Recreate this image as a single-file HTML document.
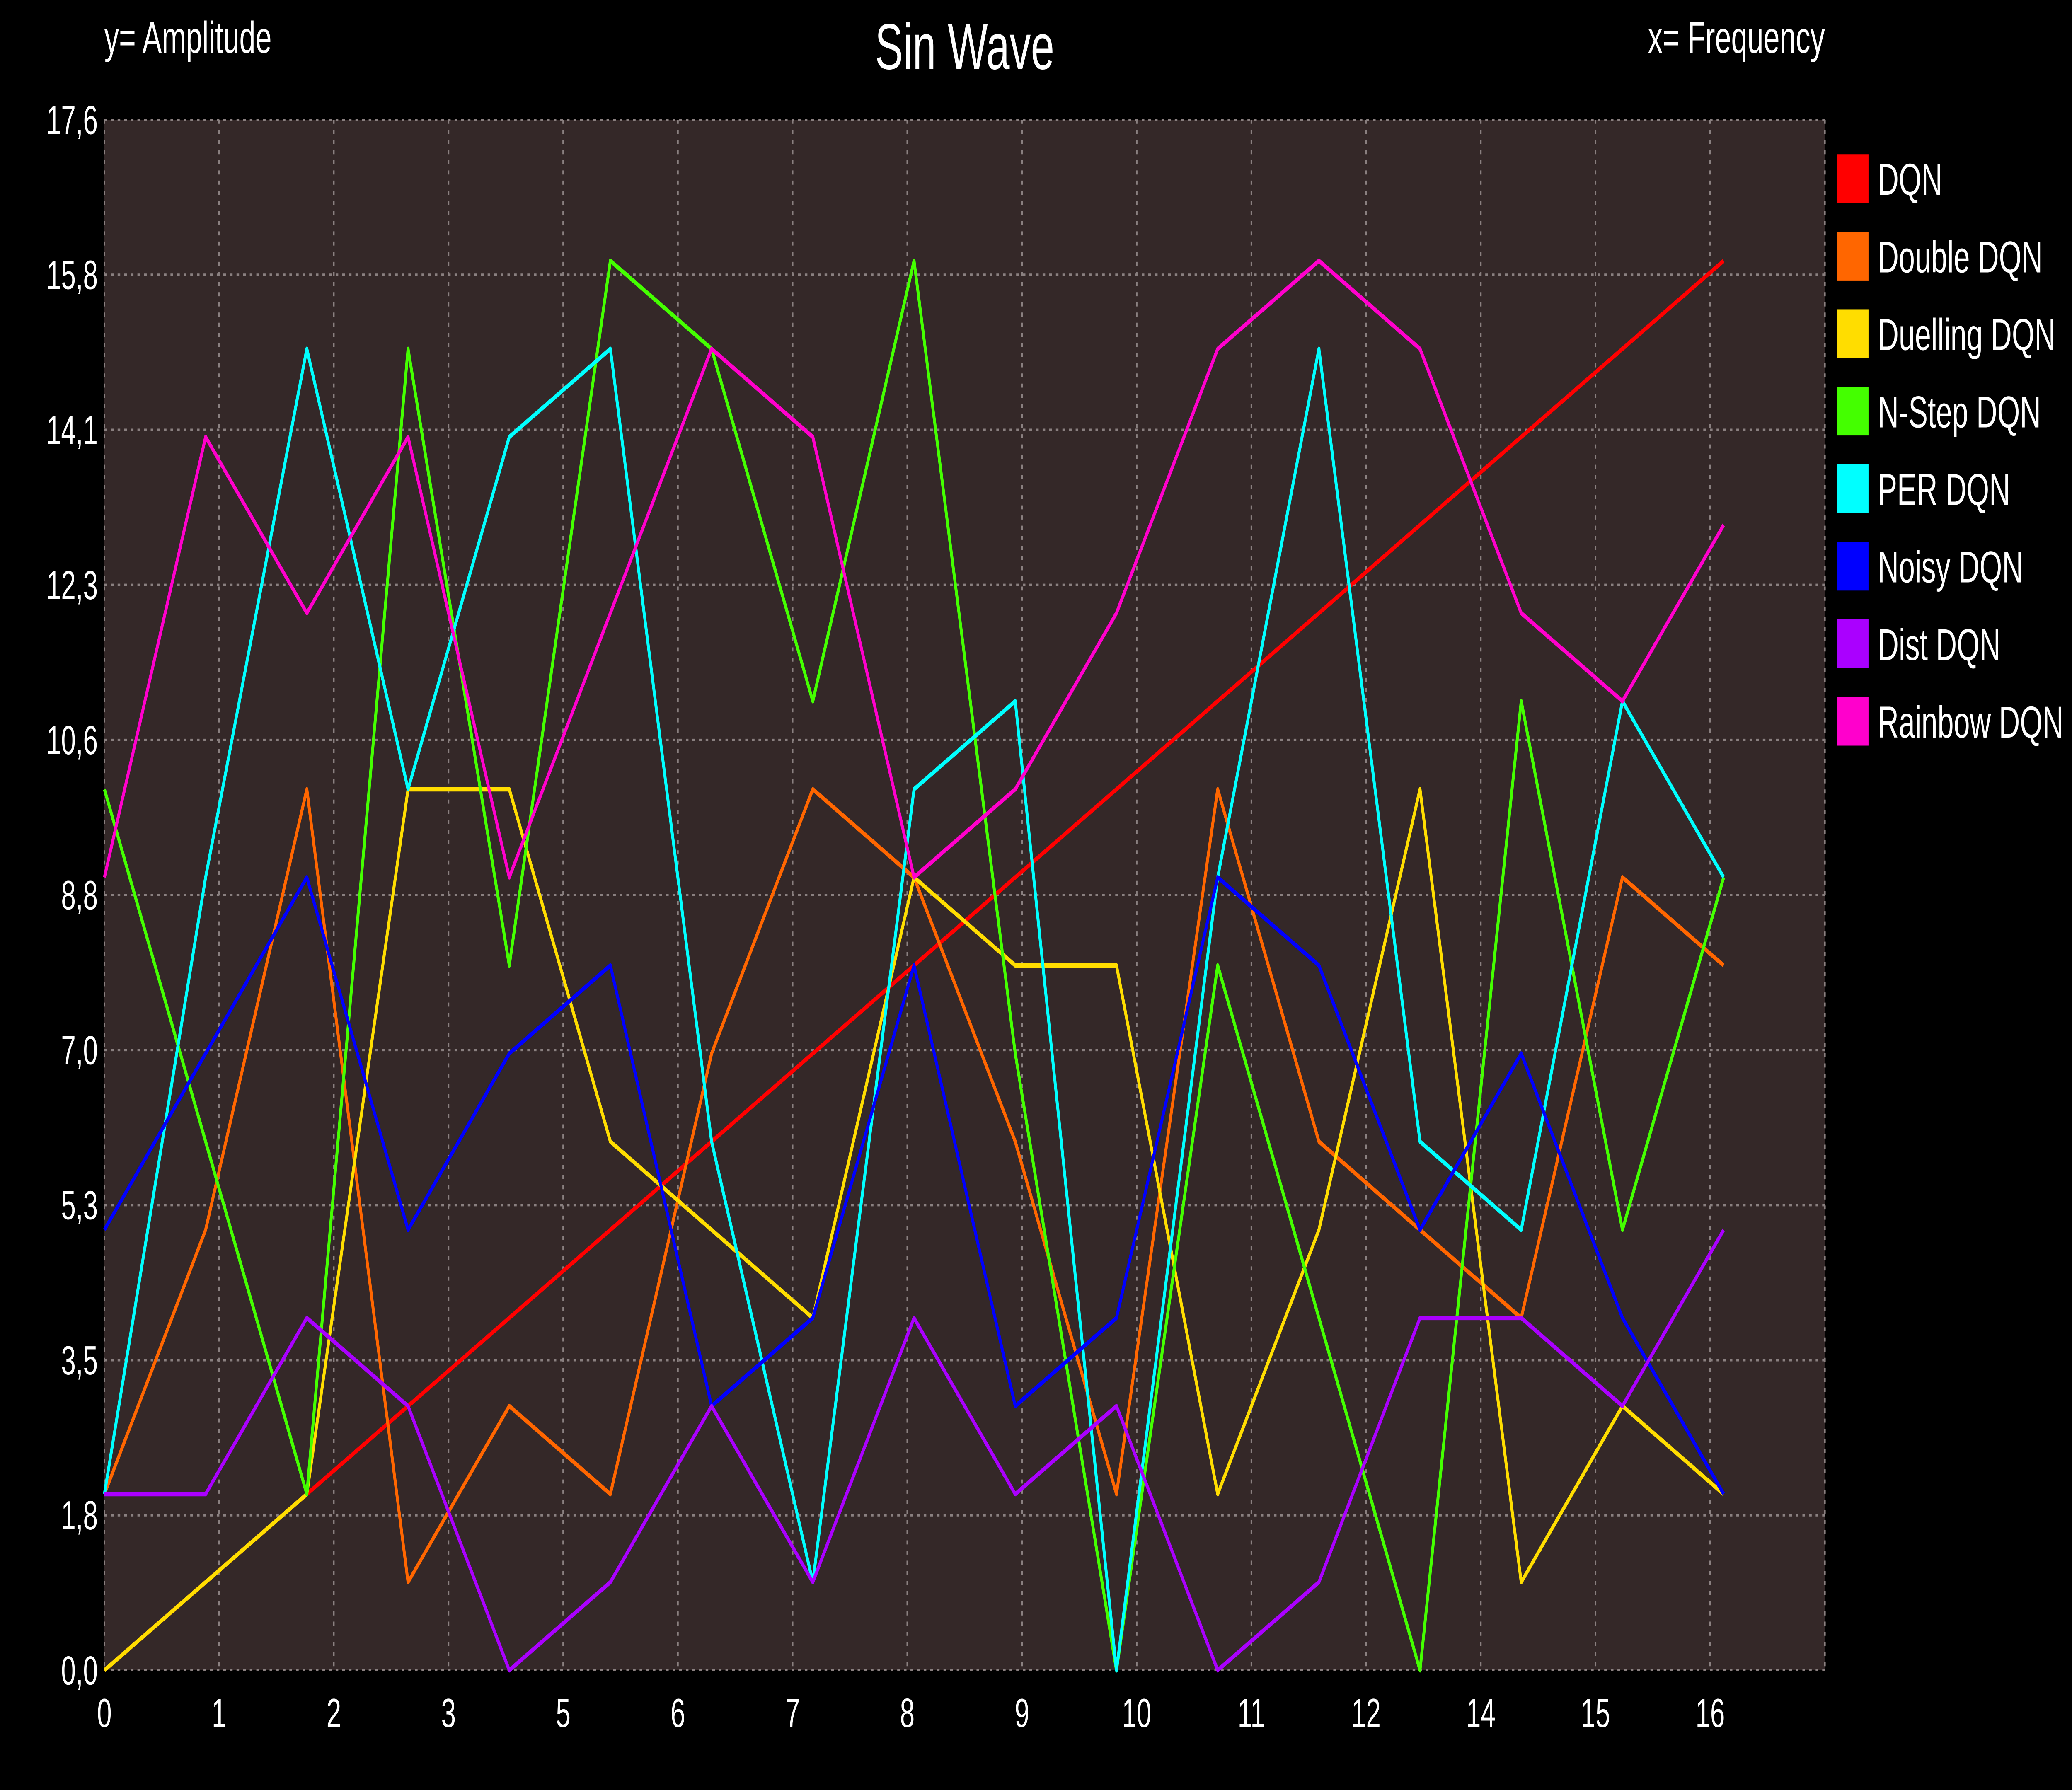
<!DOCTYPE html>
<html><head><meta charset="utf-8"><style>
html,body{margin:0;padding:0;background:#000;width:100%;height:100%;overflow:hidden;}
svg{display:block;position:absolute;left:0;top:0;width:100vw;height:100vh;}
text{font-family:"Liberation Sans",sans-serif;fill:#fff;}
</style></head><body>
<svg id="chart" viewBox="0 0 1568 882" preserveAspectRatio="none" xmlns="http://www.w3.org/2000/svg">
<rect x="0" y="0" width="1568" height="882" fill="#000"/>
<rect x="79" y="59" width="1302" height="764" fill="#342828"/>
<g id="grid"></g>
<g id="series"></g>
<g id="axes"></g>
<g id="legend"></g>
<text x="730" y="34" font-size="32" text-anchor="middle">Sin Wave</text>
<text x="79" y="26" font-size="22">y= Amplitude</text>
<text x="1381" y="26" font-size="22" text-anchor="end">x= Frequency</text>
</svg>
<script>
const xValues=[0,1,2,3,4,5,6,7,8,9,10,11,12,13,14,15,16];
const seriesNames=["DQN","Double DQN","Duelling DQN","N-Step DQN","PER DQN","Noisy DQN","Dist DQN","Rainbow DQN"];
const seriesColors=["#ff0000","#ff6600","#ffdd00","#44ff00","#00ffff","#0000ff","#aa00ff","#ff00cc"];
const dqn=[0,1,2,3,4,5,6,7,8,9,10,11,12,13,14,15,16];
const doubleDqn=[2,5,10,1,3,2,7,10,9,6,2,10,6,5,4,9,8];
const duellingDqn=[0,1,2,10,10,6,5,4,9,8,8,2,5,10,1,3,2];
const nstepDqn=[10,6,2,15,8,16,15,11,16,7,0,8,4,0,11,5,9];
const perDqn=[2,9,15,10,14,15,6,1,10,11,0,9,15,6,5,11,9];
const noisyDqn=[5,7,9,5,7,8,3,4,8,3,4,9,8,5,7,4,2];
const distDqn=[2,2,4,3,0,1,3,1,4,2,3,0,1,4,4,3,5];
const rainbowDqn=[9,14,12,14,9,12,15,14,9,10,12,15,16,15,12,11,13];
const yTickLabels=["0,0","1,8","3,5","5,3","7,0","8,8","10,6","12,3","14,1","15,8","17,6"];
const xTickLabels=["0","1","2","3","5","6","7","8","9","10","11","12","14","15","16"];
const allSeries=[dqn,doubleDqn,duellingDqn,nstepDqn,perDqn,noisyDqn,distDqn,rainbowDqn];
const X0=79,X1=1381,Y0=823,Y1=59,XMAX=17,YMAX=17.6;
function sx(v){return X0+(v/XMAX)*(X1-X0);}
function sy(v){return Y0-(v/YMAX)*(Y0-Y1);}
const NS="http://www.w3.org/2000/svg";
function mk(t,a){const e=document.createElementNS(NS,t);for(const k in a)e.setAttribute(k,a[k]);return e;}
const grid=document.getElementById('grid'),axes=document.getElementById('axes');
for(let i=0;i<yTickLabels.length;i++){
  const y=Y0-i*(Y0-Y1)/(yTickLabels.length-1);
  const l=mk('line',{x1:X0,x2:X1,y1:y,y2:y,stroke:'#8a8080','stroke-width':1.2,'stroke-dasharray':'2,3'});
  
  
  grid.appendChild(l);
  const t=mk('text',{x:74,y:y+7,'font-size':20,'text-anchor':'end'});t.textContent=yTickLabels[i];
  
  
  axes.appendChild(t);
}
for(let i=0;i<=15;i++){
  const x=X0+i*(X1-X0)/15;
  const l=mk('line',{x1:x,x2:x,y1:Y1,y2:Y0,stroke:'#8a8080','stroke-width':1.2,'stroke-dasharray':'2,3'});
  
  
  grid.appendChild(l);
  if(i<xTickLabels.length){
    const t=mk('text',{x:x,y:851,'font-size':20,'text-anchor':'middle'});t.textContent=xTickLabels[i];
    
    
    axes.appendChild(t);
  }
}
const sg=document.getElementById('series');
allSeries.forEach((s,k)=>{
  const pts=s.map((v,i)=>sx(xValues[i]).toFixed(1)+','+sy(v).toFixed(1)).join(' ');
  const p=mk('polyline',{points:pts,fill:'none',stroke:seriesColors[k],'stroke-width':2.2,'stroke-linejoin':'round'});
  
  
  sg.appendChild(p);
});
const lg=document.getElementById('legend');
seriesNames.forEach((n,k)=>{
  const y=88+k*38.2;
  const r=mk('rect',{x:1390,y:y-12,width:24,height:24,fill:seriesColors[k]});
  
  
  lg.appendChild(r);
  const t=mk('text',{x:1421,y:y+8,'font-size':22});t.textContent=n;
  
  
  lg.appendChild(t);
});
</script>
</body></html>
